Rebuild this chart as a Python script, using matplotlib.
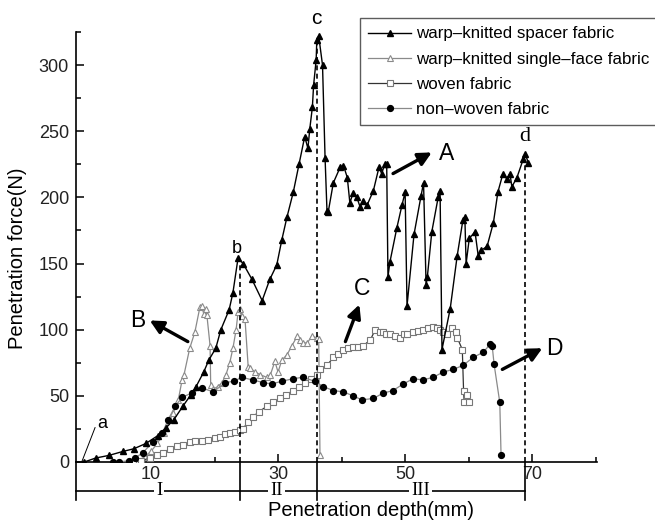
import matplotlib
matplotlib.use("Agg")
import matplotlib.pyplot as plt
import matplotlib.transforms as mtransforms

plt.rcParams['font.family'] = ['Liberation Sans', 'DejaVu Sans']

# ---------------- data ----------------
spacer_x = [-0.5, 1.3, 3.4, 5.6, 7.3, 9.2, 11.1, 12.4, 13.6, 15.0, 16.3, 17.1, 18.3, 19.1, 20.2, 21.0,
            22.3, 22.9, 23.7, 24.5, 25.9, 27.5, 28.7, 29.8, 30.6, 31.4, 32.4, 33.3, 34.2, 34.7, 35.0,
            35.4, 35.6, 36.0, 36.1, 36.4, 37.0, 37.4, 37.7, 37.9, 38.7, 39.8, 40.3, 40.9, 41.3, 41.8,
            42.4, 42.9, 43.4, 44.0, 45.0, 45.9, 46.3, 46.8, 47.1, 47.3, 47.6, 48.7, 49.5, 50.0, 50.3,
            51.4, 52.5, 52.9, 53.3, 53.5, 54.2, 55.2, 55.5, 55.8, 57.1, 58.2, 59.1, 59.4, 59.6, 60.1,
            61.0, 61.5, 62.0, 62.9, 63.9, 64.6, 65.4, 66.0, 66.5, 66.8, 67.6, 68.6, 68.9, 69.4]
spacer_y = [0, 3, 5, 8, 10, 14, 20, 26, 32, 42, 51, 57, 68, 77, 86, 100,
            115, 128, 154, 150, 138, 122, 138, 149, 168, 185, 204, 225, 246, 237, 252,
            268, 285, 304, 319, 322, 300, 230, 190, 189, 211, 223, 224, 215, 196, 203,
            200, 193, 197, 194, 205, 223, 218, 225, 225, 140, 151, 177, 194, 204, 118,
            172, 201, 211, 134, 140, 174, 200, 205, 85, 116, 156, 183, 185, 150, 169,
            174, 156, 160, 163, 181, 204, 218, 214, 218, 208, 215, 229, 233, 226]

single_x = [6.5, 8.0, 9.0, 10.0, 11.0, 12.0, 12.4, 13.5, 14.3, 14.9, 15.2, 16.1, 16.9, 17.7, 18.0,
            18.3, 18.6, 18.8, 19.3, 19.4, 19.8, 20.5, 21.2, 21.8, 22.4, 22.9, 23.4, 23.7, 24.0, 24.4,
            24.8, 25.3, 25.6, 26.4, 27.2, 28.2, 28.8, 29.5, 30.0, 30.6, 31.4, 32.2, 33.0, 33.4, 34.0,
            34.6, 35.3, 36.1, 36.4, 36.6]
single_y = [0, 1, 4, 8, 14, 22, 26, 37, 47, 62, 66, 86, 98, 117, 118,
            112, 116, 111, 88, 58, 55, 57, 60, 66, 75, 86, 100, 113, 116, 110,
            108, 72, 71, 68, 66, 64, 66, 76, 68, 77, 81, 88, 95, 92, 90,
            90, 95, 94, 93, 5]

woven_x = [7.2, 8.5, 9.8, 11.0, 11.9, 13.0, 14.1, 15.0, 16.1, 17.0, 18.0, 19.0, 20.0, 20.9, 21.7,
           22.4, 23.2, 24.0, 24.5, 25.2, 26.0, 27.0, 28.2, 29.2, 30.3, 31.3, 32.4, 33.3, 34.3, 35.2,
           36.1, 36.6, 37.7, 38.7, 39.5, 40.3, 41.0, 41.8, 42.6, 43.4, 44.5, 45.3, 46.0, 46.5, 47.0,
           47.6, 48.4, 49.2, 49.8, 50.3, 51.3, 52.0, 52.8, 53.6, 54.4, 55.0, 55.5, 56.0, 56.6, 57.4,
           58.0, 58.2, 59.0, 59.2, 59.3, 59.8, 60.0]
woven_y = [0, 1, 3, 5, 7, 10, 12, 13, 15, 16, 15.5, 17, 18, 19, 21,
           22, 23, 24, 25, 30, 34, 38, 42, 45, 48, 51, 54, 57, 60, 63,
           66, 70, 73, 79, 82, 85, 86, 87, 87, 88, 92, 100, 98, 98, 97,
           97, 95, 94, 97, 97, 98, 99, 100, 101, 102, 101, 100, 98, 97, 101,
           98, 94, 85, 54, 45, 51, 45]

nonwoven_x = [4.0, 5.0, 6.5, 7.5, 8.7, 10.3, 11.8, 12.7, 13.8, 14.9, 16.4, 18.0, 19.8, 21.7, 23.0,
              24.3, 26.0, 27.7, 29.0, 30.6, 32.4, 33.9, 35.8, 37.1, 38.7, 40.3, 41.8, 43.2, 45.0,
              46.5, 48.1, 49.7, 51.3, 52.8, 54.4, 56.0, 57.6, 59.1, 60.7, 62.3, 63.4, 63.7, 64.0,
              64.9, 65.1]
nonwoven_y = [0, 0, 1, 3, 7, 15, 22, 32, 42, 49, 52, 56, 53, 60, 61,
              64, 62, 60, 59, 61, 63, 64, 61, 57, 54, 53, 50, 47, 48,
              52, 54, 59, 63, 62, 64, 68, 70, 73, 79, 83, 89, 88, 74,
              45, 5]

series_names = ["warp\u2013knitted spacer fabric", "warp\u2013knitted single\u2013face fabric",
                "woven fabric", "non\u2013woven fabric"]

x_major = [10, 30, 50, 70]
x_minor = [20, 40, 60, 80]
y_major = [0, 50, 100, 150, 200, 250, 300]
y_minor = [25, 75, 125, 175, 225, 275, 325]

stage_bounds = [24.0, 36.2, 68.9]
stage_peaks = [150, 318, 228]
stage_labels = ["I", "II", "III"]
stage_label_x = [11.3, 29.8, 52.4]

# ---------------- figure ----------------
fig = plt.figure(figsize=(6.55, 5.25), dpi=100)
ax = fig.add_axes([76/655, 1-462/525, (597-76)/655, (462-32)/525])

ax.plot(spacer_x, spacer_y, color='black', lw=1.0, marker='^', ms=4.2,
        mfc='black', mec='black', label=series_names[0], zorder=4)
ax.plot(single_x, single_y, color='#8a8a8a', lw=0.9, marker='^', ms=4.2,
        mfc='white', mec='#8a8a8a', mew=0.8, label=series_names[1], zorder=3)
ax.plot(woven_x, woven_y, color='#333333', lw=0.9, marker='s', ms=3.8,
        mfc='white', mec='#777777', mew=0.8, label=series_names[2], zorder=3)
ax.plot(nonwoven_x, nonwoven_y, color='#8a8a8a', lw=0.9, marker='o', ms=4.2,
        mfc='black', mec='black', label=series_names[3], zorder=3)

ax.set_xlim(-1.8, 80.2)
ax.set_ylim(0, 325)
ax.spines['top'].set_visible(False)
ax.spines['right'].set_visible(False)
for s in ['left', 'bottom']:
    ax.spines[s].set_linewidth(1.2)
ax.set_xticks(x_major)
ax.set_xticks(x_minor, minor=True)
ax.set_yticks(y_major)
ax.set_yticks(y_minor, minor=True)
ax.tick_params(axis='both', which='major', direction='in', length=6, width=1.1, labelsize=13)
ax.tick_params(axis='both', which='minor', direction='in', length=3.5, width=1.1)
ax.tick_params(axis='x', which='major', pad=3)
ax.tick_params(axis='y', which='major', pad=5)
for lab in ax.get_xticklabels() + ax.get_yticklabels():
    lab.set_color('#222222')

trans = mtransforms.blended_transform_factory(ax.transData, ax.transAxes)

# dashed stage lines
for xb, yp in zip(stage_bounds, stage_peaks):
    ax.plot([xb, xb], [0, yp], color='black', lw=1.2, ls=(0, (3, 2)), zorder=5)
    ax.plot([xb, xb], [0, -0.088], color='black', lw=1.2, transform=trans, clip_on=False)

# stage bracket line
ax.plot([-1.8, stage_bounds[2]], [-0.067, -0.067], color='black', lw=1.2,
        transform=trans, clip_on=False)
ax.plot([-1.8, -1.8], [0, -0.088], color='black', lw=1.2, transform=trans, clip_on=False)
for lx, lt in zip(stage_label_x, stage_labels):
    ax.text(lx, -0.067, lt, transform=trans, ha='center', va='center', fontsize=13.5,
            family='Liberation Serif',
            bbox=dict(facecolor='white', edgecolor='none', pad=1.5), clip_on=False)

# point labels
ax.plot([-0.9, 1.2], [0, 26], color='black', lw=0.7)
ax.text(2.3, 29, "a", fontsize=13, ha='center', va='center')
ax.text(23.5, 161, "b", fontsize=13, ha='center', va='center')
ax.text(36.1, 335, "c", fontsize=15, ha='center', va='center', clip_on=False)
ax.text(68.9, 246, "d", fontsize=16, ha='center', va='center', family='Liberation Serif')

# arrows
ap = dict(arrowstyle='-|>', color='black', lw=2.4, mutation_scale=20, shrinkA=0, shrinkB=0)
ax.annotate("", xy=(54.2, 234), xytext=(48.1, 218), arrowprops=ap)
ax.text(56.5, 233, "A", fontsize=16.5, ha='center', va='center')
ax.annotate("", xy=(9.8, 107), xytext=(15.8, 91), arrowprops=ap)
ax.text(7.9, 107, "B", fontsize=16.5, ha='center', va='center')
ax.annotate("", xy=(42.8, 119), xytext=(40.6, 91), arrowprops=ap)
ax.text(43.3, 131, "C", fontsize=16.5, ha='center', va='center')
ax.annotate("", xy=(71.6, 86), xytext=(65.3, 70), arrowprops=ap)
ax.text(73.5, 86, "D", fontsize=16.5, ha='center', va='center')

# axis labels
fig.text(371/655, 1-510/525, "Penetration depth(mm)", ha='center', va='center', fontsize=14.5)
fig.text(18/655, 1-258/525, "Penetration force(N)", ha='center', va='center', fontsize=14.5,
         rotation=90)

# legend
leg = fig.legend(loc='upper left', bbox_to_anchor=(360/655, 1-18/525), borderaxespad=0,
                 frameon=True, fancybox=False, fontsize=12.2, handlelength=2.5,
                 handletextpad=0.3, labelspacing=0.6, borderpad=0.5,
                 handles=ax.get_lines()[:4])
leg.get_frame().set_edgecolor('#333333')
leg.get_frame().set_linewidth(1.0)

fig.savefig("out.png", dpi=100)
